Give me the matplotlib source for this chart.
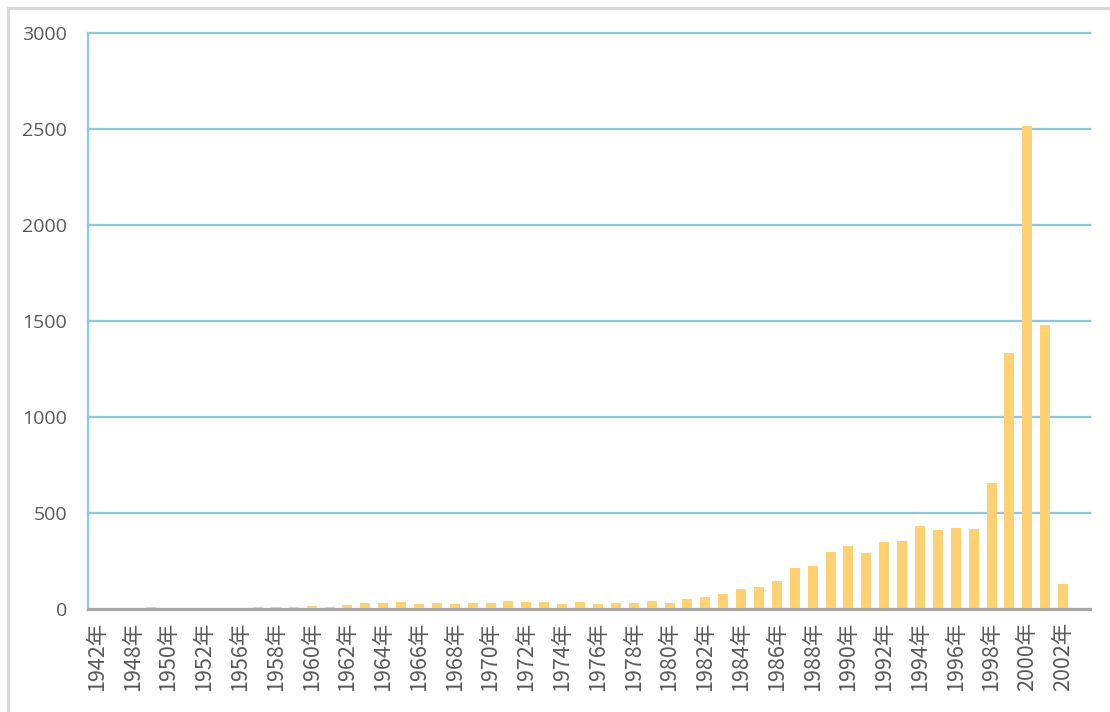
import matplotlib.pyplot as plt
import matplotlib.patches as patches
import numpy as np

# 年份（类别）与数值
anos = ['1942年', '1947年', '1948年', '1949年', '1950年', '1951年', '1952年', '1955年',
        '1956年', '1957年', '1958年', '1959年', '1960年', '1961年', '1962年', '1963年',
        '1964年', '1965年', '1966年', '1967年', '1968年', '1969年', '1970年', '1971年',
        '1972年', '1973年', '1974年', '1975年', '1976年', '1977年', '1978年', '1979年',
        '1980年', '1981年', '1982年', '1983年', '1984年', '1985年', '1986年', '1987年',
        '1988年', '1989年', '1990年', '1991年', '1992年', '1993年', '1994年', '1995年',
        '1996年', '1997年', '1998年', '1999年', '2000年', '2001年', '2002年', '2003年']
valores = [0, 0, 0, 10, 0, 0, 0, 0,
           2, 8, 10, 8, 18, 10, 22, 30,
           30, 38, 25, 32, 25, 30, 32, 42,
           38, 38, 25, 38, 25, 30, 30, 42,
           30, 52, 63, 80, 105, 115, 146, 215,
           225, 297, 327, 292, 348, 355, 433, 410,
           422, 415, 658, 1333, 2515, 1477, 128, 0]
yticks = [0, 500, 1000, 1500, 2000, 2500, 3000]

cor_barra = '#FFD175'
cor_grade = '#8CC8E2'
cor_texto = '#595959'

fig = plt.figure(figsize=(11.1, 7.12), dpi=100)
ax = fig.add_axes([88 / 1110, 1 - 609 / 712, (1090 - 88) / 1110, (609 - 33) / 712])

# borda cinza do gráfico (estilo Excel)
fig.patches.append(patches.Rectangle((8 / 1110, -0.05), 1.1, 1 - 8 / 712 + 0.05,
                                     transform=fig.transFigure, fill=False,
                                     edgecolor='#D9D9D9', linewidth=2.2))

x = np.arange(len(anos))
ax.bar(x, valores, width=0.56, color=cor_barra, zorder=3)

ax.set_xlim(-0.5, len(anos) - 0.5)
ax.set_ylim(0, 3000)
ax.set_yticks(yticks)
ax.yaxis.grid(True, color=cor_grade, linewidth=1.6, zorder=0)
for linha in ax.get_ygridlines():
    linha.set_clip_on(False)
ax.set_xticks(x[::2])
ax.set_xticklabels(anos[::2], rotation=90, family=['Noto Sans CJK SC', 'DejaVu Sans'],
                   fontsize=15.5, color=cor_texto)
for lbl in ax.get_yticklabels():
    lbl.set_family('Open Sans')
    lbl.set_fontsize(14)
    lbl.set_color(cor_texto)
ax.tick_params(axis='both', length=0)
ax.tick_params(axis='y', pad=15)
ax.tick_params(axis='x', pad=9)

for lado in ['top', 'right']:
    ax.spines[lado].set_visible(False)
ax.spines['left'].set_color(cor_grade)
ax.spines['left'].set_linewidth(1.6)
ax.spines['bottom'].set_color('#A6A6A6')
ax.spines['bottom'].set_linewidth(2.2)
ax.spines['bottom'].set_zorder(4)

fig.savefig('out.png', dpi=100)
